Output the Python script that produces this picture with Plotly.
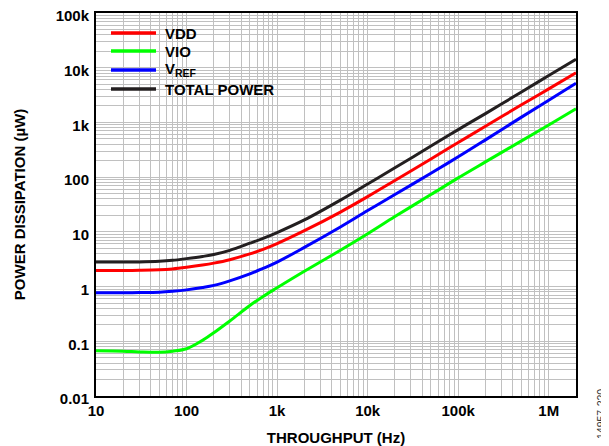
import plotly.graph_objects as go

# Throughput (Hz)
freq = [10, 20, 30, 50, 70, 100, 150, 200, 300, 500, 700, 1e3, 2e3, 5e3, 1e4,
        2e4, 5e4, 1e5, 2e5, 5e5, 1e6, 2e6]

# Power dissipation (µW)
vdd = [1.97, 1.97, 1.98, 2.02, 2.1, 2.25, 2.47, 2.68, 3.1, 3.95, 4.8, 6.1,
       10.5, 23, 44, 87, 215, 430, 850, 2100, 4100, 8100]
vio = [0.067, 0.066, 0.064, 0.063, 0.066, 0.073, 0.104, 0.143, 0.235, 0.45,
       0.66, 0.95, 1.9, 4.6, 9.2, 19, 48, 97, 190, 460, 900, 1770]
vref = [0.77, 0.77, 0.775, 0.79, 0.82, 0.87, 0.96, 1.05, 1.27, 1.7, 2.15, 2.8,
        5.2, 12.3, 24.5, 48, 118, 235, 480, 1250, 2550, 5200]
total = [2.8, 2.8, 2.82, 2.9, 3.02, 3.24, 3.55, 3.85, 4.6, 6.2, 7.6, 9.7, 16.5,
         38, 75, 148, 370, 740, 1450, 3600, 7200, 14300]

series_names = ["VDD", "VIO", "V<sub>REF</sub>", "TOTAL POWER"]
series_values = [vdd, vio, vref, total]
series_colors = ["#ff0000", "#00ff00", "#0000ff", "#231f20"]

x_tickvals = [10, 100, 1e3, 1e4, 1e5, 1e6]
x_ticktext = ["10", "100", "1k", "10k", "100k", "1M"]
y_tickvals = [0.01, 0.1, 1, 10, 100, 1e3, 1e4, 1e5]
y_ticktext = ["0.01", "0.1", "1", "10", "100", "1k", "10k", "100k"]

FONT = "Liberation Sans, Arial, sans-serif"

# geometry (page has an 8px body margin)
W, H = 601, 438
ML, MR, MT, MB = 88, 33, 5, 50
PW = W - ML - MR
PH = H - MT - MB

fig = go.Figure()
for name, vals, col in zip(series_names, series_values, series_colors):
    fig.add_trace(go.Scatter(x=freq, y=vals, name=name, mode="lines",
                             line=dict(color=col, width=3, shape="spline"),
                             showlegend=False))

grid_col = "#c0c0c0"
fig.update_layout(
    width=W, height=H,
    margin=dict(l=ML, r=MR, t=MT, b=MB, autoexpand=False),
    paper_bgcolor="white", plot_bgcolor="white",
    font=dict(family=FONT, color="black"),
    showlegend=False,
    xaxis=dict(type="log", range=[0.9999, 6.30103], automargin=False,
               tickvals=x_tickvals, ticktext=x_ticktext,
               tickfont=dict(family=FONT, size=15, weight="bold"),
               showgrid=True, gridcolor=grid_col, gridwidth=1,
               minor=dict(dtick="D1", showgrid=True, gridcolor=grid_col, gridwidth=1),
               showline=True, linecolor="black", linewidth=2, mirror=True,
               ticks="", zeroline=False, ticklabeloverflow="allow",
               title=dict(text="THROUGHPUT (Hz)",
                          font=dict(family=FONT, size=15, weight="bold"),
                          standoff=15)),
    yaxis=dict(type="log", range=[-2.0002, 5.0002], automargin=False,
               tickvals=y_tickvals, ticktext=y_ticktext,
               tickfont=dict(family=FONT, size=15, weight="bold"),
               showgrid=True, gridcolor=grid_col, gridwidth=1,
               minor=dict(dtick="D1", showgrid=True, gridcolor=grid_col, gridwidth=1),
               showline=True, linecolor="black", linewidth=2, mirror=True,
               ticks="", zeroline=False, ticklabelstandoff=2,
               ticklabelshift=3, ticklabeloverflow="allow",
               title=dict(text="POWER DISSIPATION (µW)",
                          font=dict(family=FONT, size=15, weight="bold"),
                          standoff=26)),
)

# legend (drawn manually to match the reference box)
fig.add_shape(type="rect", xref="paper", yref="paper",
              x0=2 / PW, x1=189 / PW, y0=1 - 84 / PH, y1=1 - 2 / PH,
              fillcolor="white", line=dict(width=0), layer="between")
row_offsets = [20, 38, 57, 76]
for name, col, d in zip(series_names, series_colors, row_offsets):
    yy = 1 - d / PH
    fig.add_shape(type="line", xref="paper", yref="paper",
                  x0=15 / PW, x1=60 / PW, y0=yy, y1=yy,
                  line=dict(color=col, width=3.5), layer="above")
    fig.add_annotation(text=name, xref="paper", yref="paper",
                       x=67 / PW, y=yy, xanchor="left", yanchor="middle",
                       showarrow=False,
                       font=dict(family=FONT, size=15, weight="bold", color="black"))

fig.add_annotation(text="14957-220", xref="paper", yref="paper",
                   x=(593 - ML) / PW, y=(PH + MT - 406) / PH, textangle=-90,
                   showarrow=False, xanchor="center", yanchor="middle",
                   font=dict(family=FONT, size=10.5, color="#333333"))

fig.write_html("out.html")
